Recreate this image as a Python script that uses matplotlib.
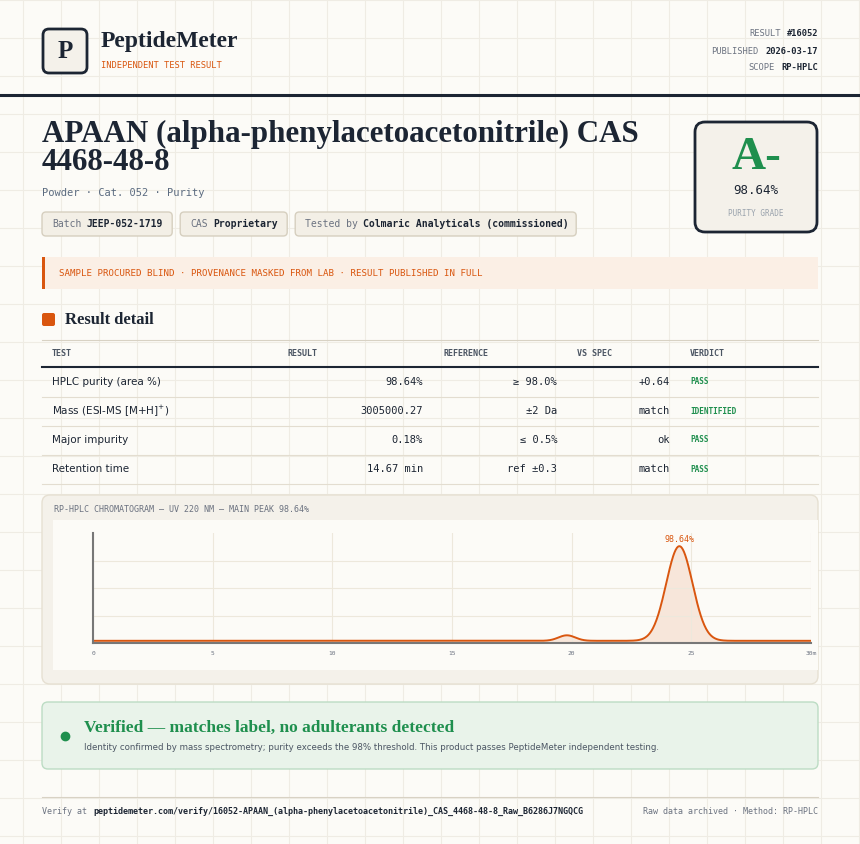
import matplotlib
matplotlib.use("Agg")
import matplotlib.pyplot as plt
import numpy as np
from matplotlib.patches import FancyBboxPatch, Rectangle

W, H = 860, 844
BG = "#fcfbf7"; INK = "#1c2533"; ORANGE = "#d9560f"; GREEN = "#1f8f4e"; MUTED = "#6b7280"
SERIF = ["Liberation Serif", "DejaVu Serif"]; MONO = ["DejaVu Sans Mono"]; SANS = ["DejaVu Sans"]

title_lines = ["APAAN (alpha-phenylacetoacetonitrile) CAS", "4468-48-8"]
meta = [("RESULT", "#16052"), ("PUBLISHED", "2026-03-17"), ("SCOPE", "RP-HPLC")]
chips = [("Batch", "JEEP-052-1719"), ("CAS", "Proprietary"), ("Tested by", "Colmaric Analyticals (commissioned)")]
headers = ["TEST", "RESULT", "REFERENCE", "VS SPEC", "VERDICT"]
tests = ["HPLC purity (area %)", "Mass (ESI-MS [M+H]$^{+}$)", "Major impurity", "Retention time"]
results = ["98.64%", "3005000.27", "0.18%", "14.67 min"]
refs = ["≥ 98.0%", "±2 Da", "≤ 0.5%", "ref ±0.3"]
vs = ["+0.64", "match", "ok", "match"]
verdicts = ["PASS", "IDENTIFIED", "PASS", "PASS"]
peak_times = [19.8, 24.5]
peak_heights = [0.05, 0.86]
peak_widths = [0.35, 0.55]
x_ticks = [0, 5, 10, 15, 20, 25, 30]
x_tick_labels = ["0", "5", "10", "15", "20", "25", "30m"]

fig = plt.figure(figsize=(8.6, 8.44), dpi=100, facecolor=BG)
ax = fig.add_axes([0, 0, 1, 1]); ax.set_xlim(0, W); ax.set_ylim(H, 0); ax.axis("off")
for gx in np.arange(23, W, 38): ax.plot([gx, gx], [0, H], color="#efece4", lw=0.8, zorder=0)
for gy in np.arange(0, H, 38): ax.plot([0, W], [gy, gy], color="#efece4", lw=0.8, zorder=0)

def box(x, y, w, h, fc, ec, lw=1, r=4, z=1):
    ax.add_patch(FancyBboxPatch((x, y), w, h, boxstyle=f"round,pad=0,rounding_size={r}", fc=fc, ec=ec, lw=lw, zorder=z))

# header
box(43, 29, 44, 44, "#f4f1ea", INK, lw=2, r=6)
ax.text(65, 52, "P", family=SERIF, weight="bold", fontsize=18, color=INK, ha="center", va="center")
ax.text(101, 42, "PeptideMeter", family=SERIF, weight="bold", fontsize=17, color=INK, va="center")
ax.text(101, 65, "INDEPENDENT TEST RESULT", family=MONO, fontsize=6.3, color=ORANGE, va="center")
for i, (k, v) in enumerate(meta):
    y = 34 + i * 17
    ax.text(818, y, v, family=MONO, fontsize=6.3, weight="bold", color=INK, ha="right", va="center")
    ax.text(818 - len(v) * 5.6 - 4, y, k, family=MONO, fontsize=6.3, color=MUTED, ha="right", va="center")
ax.plot([0, W], [95, 95], color=INK, lw=2.2)

# title
for i, t in enumerate(title_lines):
    ax.text(42, 134 + i * 29, t, family=SERIF, weight="bold", fontsize=22.3, color=INK, va="center")
ax.text(42, 193, "Powder · Cat. 052 · Purity", family=MONO, fontsize=7.5, color="#5b6b80", va="center")
cx = 42
CW = 5.8
for k, v in chips:
    w = (len(k) + len(v) + 1) * CW + 20
    box(cx, 212, w, 24, "#f3efe6", "#d6cfbf", r=4)
    ax.text(cx + 10, 224, k, family=MONO, fontsize=7, color=MUTED, va="center")
    ax.text(cx + 10 + (len(k) + 1) * CW, 224, v, family=MONO, fontsize=7, weight="bold", color=INK, va="center")
    cx += w + 8
box(695, 122, 122, 110, "#f4f1ea", INK, lw=2, r=10)
ax.text(756, 158, "A-", family=SERIF, weight="bold", fontsize=34, color=GREEN, ha="center", va="center")
ax.text(756, 191, "98.64%", family=MONO, fontsize=9, color=INK, ha="center", va="center")
ax.text(756, 213, "PURITY GRADE", family=MONO, fontsize=5.5, color="#9aa3ad", ha="center", va="center")

ax.add_patch(Rectangle((42, 257), 776, 32, fc="#fbefe5", ec="none"))
ax.add_patch(Rectangle((42, 257), 2.5, 32, fc=ORANGE, ec="none"))
ax.text(59, 273, "SAMPLE PROCURED BLIND · PROVENANCE MASKED FROM LAB · RESULT PUBLISHED IN FULL",
        family=MONO, fontsize=6.6, color=ORANGE, va="center")

# result detail
ax.add_patch(FancyBboxPatch((42, 313), 13, 13, boxstyle="round,pad=0,rounding_size=2", fc=ORANGE, ec="none"))
ax.text(65, 320, "Result detail", family=SERIF, weight="bold", fontsize=12, color=INK, va="center")
ax.plot([42, 818], [340, 340], color="#d8d2c4", lw=0.8)
hx = [52, 288, 443, 577, 690]
for x, h in zip(hx, headers):
    ax.text(x, 353, h, family=MONO, fontsize=6, weight="bold", color="#4b5563", va="center")
ax.plot([42, 818], [367, 367], color=INK, lw=1.5)
for i in range(len(tests)):
    y = 382 + i * 29
    ax.text(52, y, tests[i], family=SANS, fontsize=7.5, color=INK, va="center")
    ax.text(423, y, results[i], family=MONO, fontsize=7.5, color=INK, va="center", ha="right")
    ax.text(557, y, refs[i], family=MONO, fontsize=7.5, color=INK, va="center", ha="right")
    ax.text(670, y, vs[i], family=MONO, fontsize=7.5, color=INK, va="center", ha="right")
    ax.text(690, y, verdicts[i], family=MONO, fontsize=5.6, weight="bold", color=GREEN, va="center")
    ax.plot([42, 818], [y + 14.5, y + 14.5], color="#e3ddd0", lw=0.8)

# chromatogram panel
box(42, 495, 776, 189, "#f4f1ea", "#e6e0d2", r=8)
ax.add_patch(Rectangle((53, 520), 765, 150, fc=BG, ec="none"))
ax.text(54, 510, "RP-HPLC CHROMATOGRAM — UV 220 NM — MAIN PEAK 98.64%", family=MONO, fontsize=6, color=MUTED, va="center")
cax = fig.add_axes([93 / W, 1 - 643 / H, (811 - 93) / W, (643 - 533) / H])
cax.set_facecolor("none")
t = np.linspace(0, 30, 1200)
sig = np.full_like(t, 0.02)
for pt, ph, pw in zip(peak_times, peak_heights, peak_widths):
    sig += ph * np.exp(-0.5 * ((t - pt) / pw) ** 2)
cax.fill_between(t, 0, sig, color=ORANGE, alpha=0.12, lw=0)
cax.plot(t, sig, color=ORANGE, lw=1.4)
cax.set_xlim(0, 30); cax.set_ylim(0, 1.0)
cax.set_xticks(x_ticks); cax.set_xticklabels(x_tick_labels, family=MONO, fontsize=4.5, color=MUTED)
cax.set_yticks([0.25, 0.5, 0.75]); cax.set_yticklabels([])
cax.tick_params(length=0, pad=6)
cax.grid(True, color="#ede8dc", lw=0.8)
for s in ["top", "right"]: cax.spines[s].set_visible(False)
for s in ["left", "bottom"]: cax.spines[s].set_color("#777"); cax.spines[s].set_linewidth(1.5)
ip = int(np.argmax(peak_heights))
cax.text(peak_times[ip], peak_heights[ip] + 0.08, "98.64%", family=MONO, fontsize=6, color=ORANGE, ha="center", va="center")

# verified
box(42, 702, 776, 67, "#e9f3ea", "#bcdcc4", r=6)
ax.plot(65, 736, "o", color=GREEN, ms=6)
ax.text(84, 728, "Verified — matches label, no adulterants detected", family=SERIF, weight="bold", fontsize=12.5, color=GREEN, va="center")
ax.text(84, 748, "Identity confirmed by mass spectrometry; purity exceeds the 98% threshold. This product passes PeptideMeter independent testing.",
        family=SANS, fontsize=6.2, color="#4b5563", va="center")

ax.plot([42, 818], [797, 797], color="#d8d2c4", lw=0.8)
ax.text(42, 811, "Verify at", family=MONO, fontsize=6, color=MUTED, va="center")
ax.text(93, 811, "peptidemeter.com/verify/16052-APAAN_(alpha-phenylacetoacetonitrile)_CAS_4468-48-8_Raw_B6286J7NGQCG",
        family=MONO, fontsize=6, color=INK, va="center", weight="bold")
ax.text(818, 811, "Raw data archived · Method: RP-HPLC", family=MONO, fontsize=6, color=MUTED, va="center", ha="right")

fig.savefig("out.png", dpi=100, facecolor=BG)
